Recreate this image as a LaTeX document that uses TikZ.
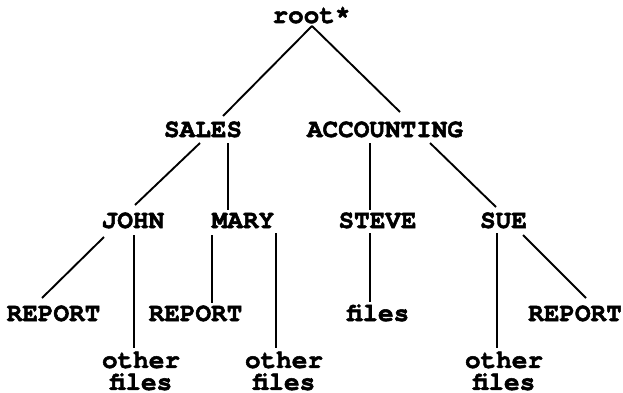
\documentclass[tikz,border=0pt]{standalone}
\usepackage{fontspec}
\newfontfamily\treefont{texgyrecursor-bold.otf}[FakeBold=2]
\usetikzlibrary{calc}
\begin{document}
\begin{tikzpicture}[x=1pt,y=-1pt,
  lbl/.style={inner sep=0pt,font=\treefont\fontsize{26}{22}\selectfont,anchor=base},
  two/.style={lbl,align=center,anchor=north},
  edge/.style={line width=1.9pt}]
\useasboundingbox (0,0) rectangle (623,393);
\node[lbl] (root) at (311.5,23) {root*};
\node[lbl] (sales) at (203,137) {SALES};
\node[lbl] (acct) at (385,137) {ACCOUNTING};
\node[lbl] (john) at (133,228) {JOHN};
\node[lbl] (mary) at (243,228) {MARY};
\node[lbl] (steve) at (377.5,228) {STEVE};
\node[lbl] (sue) at (503.5,228) {SUE};
\node[lbl] (rep1) at (53.5,321) {REPORT};
\node[lbl] (rep2) at (195.5,321) {REPORT};
\node[lbl] (files) at (378,321) {files};
\node[lbl] (rep3) at (575,321) {REPORT};
\node[two] (of1) at (141,351.5) {other\\files};
\node[two] (of2) at (284,351.5) {other\\files};
\node[two] (of3) at (504,351.5) {other\\files};
\draw[edge] ($(root.base)+(0.5,3)$) -- ($(sales.base)+(20,-21)$);
\draw[edge] ($(root.base)+(0.5,3)$) -- ($(acct.base)+(15,-25)$);
\draw[edge] ($(sales.base)+(-3,6)$) -- ($(john.base)+(2,-23)$);
\draw[edge] ($(sales.base)+(25,6)$) -- ($(mary.base)+(-15,-18)$);
\draw[edge] ($(acct.base)+(-15,6)$) -- ($(steve.base)+(-7.5,-18)$);
\draw[edge] ($(acct.base)+(45,6)$) -- ($(sue.base)+(-7.5,-21)$);
\draw[edge] ($(john.base)+(-29,9)$) -- ($(rep1.base)+(-11.5,-23)$);
\draw[edge] ($(john.base)+(1,7)$) -- ($(of1.north)+(-7,-3.5)$);
\draw[edge] ($(mary.base)+(-31,7)$) -- ($(rep2.base)+(16.5,-18)$);
\draw[edge] ($(mary.base)+(33,5)$) -- ($(of2.north)+(-8,-3.5)$);
\draw[edge] ($(steve.base)+(-7.5,5)$) -- ($(files.base)+(-8,-19)$);
\draw[edge] ($(sue.base)+(-6.5,5)$) -- ($(of3.north)+(-7,-3.5)$);
\draw[edge] ($(sue.base)+(19.5,7)$) -- ($(rep3.base)+(11,-23)$);
\end{tikzpicture}
\end{document}
